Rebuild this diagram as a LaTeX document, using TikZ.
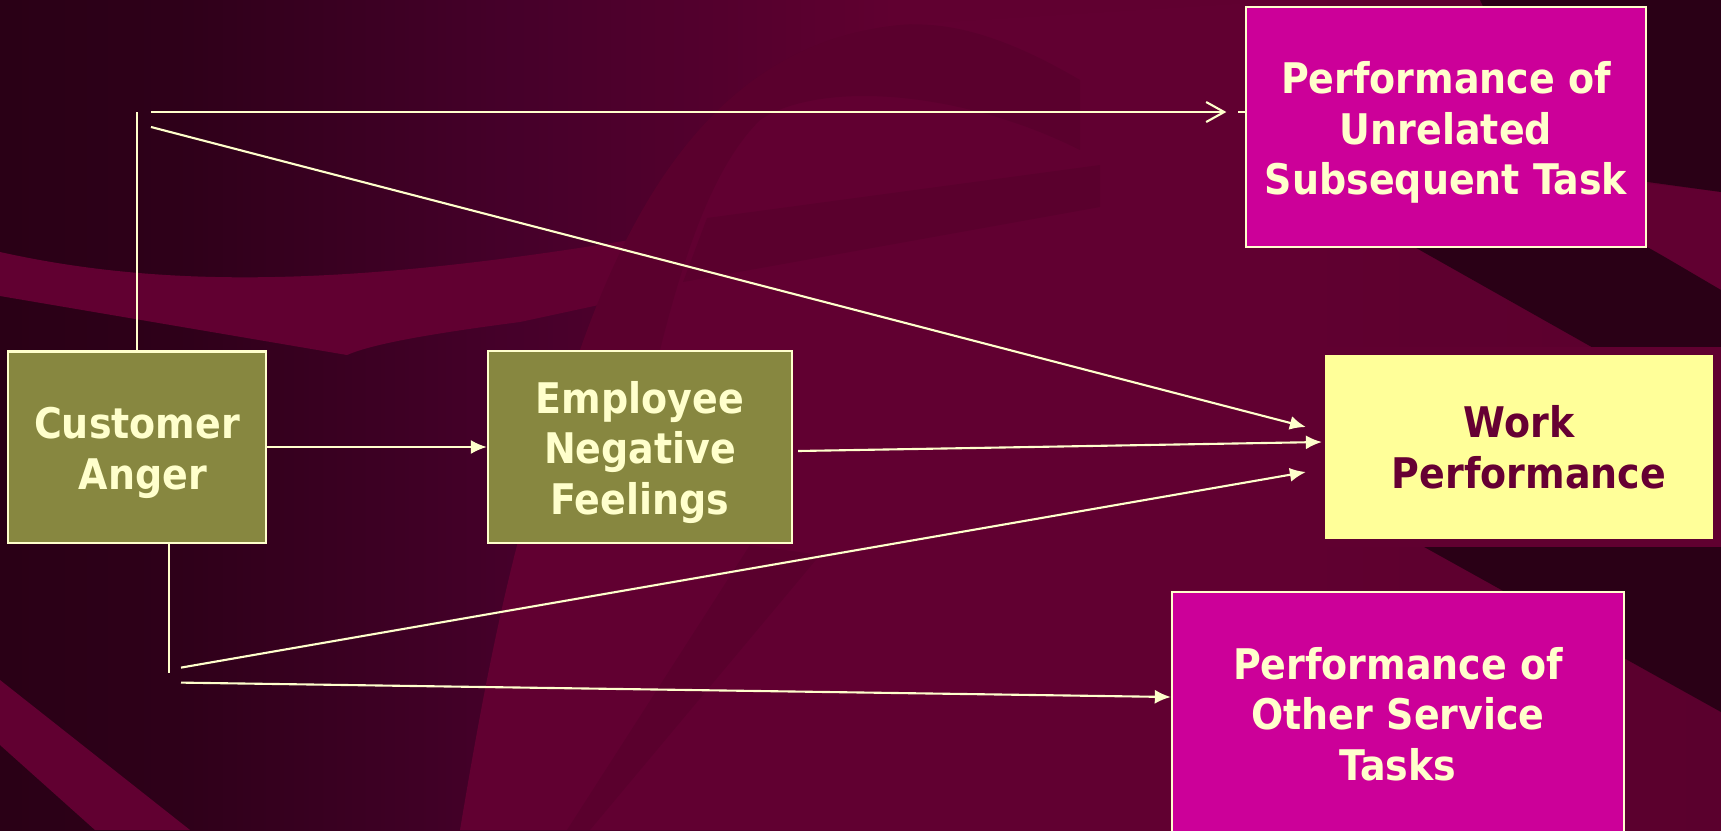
\documentclass[tikz,border=0pt]{standalone}
\usepackage{fontspec}
\setmainfont{DejaVu Sans Condensed}
\usetikzlibrary{arrows.meta, positioning, calc}
\definecolor{slidedark}{HTML}{2A0016}
\definecolor{slidedusk}{HTML}{2E0019}
\definecolor{slideplum}{HTML}{46002A}
\definecolor{slidewine}{HTML}{600030}
\definecolor{slidefade}{HTML}{5A002D}
\definecolor{slideswoosh}{HTML}{610031}
\definecolor{olivebox}{HTML}{878740}
\definecolor{magentabox}{HTML}{CC0099}
\definecolor{outcomebox}{HTML}{FFFF99}
\definecolor{outcomeborder}{HTML}{600030}
\definecolor{outcometext}{HTML}{660033}
\definecolor{paletext}{HTML}{FFFFCC}

\pgfdeclarehorizontalshading{slideback}{100bp}{
  color(0bp)=(slidedark); color(25bp)=(slidedark); color(30bp)=(slidedusk);
  color(40bp)=(slideplum); color(51bp)=(slidewine);
  color(62.5bp)=(slidewine); color(75bp)=(slidefade); color(100bp)=(slidefade)}

% pushes the first line of a box down a little
\newcommand{\padtop}{\rule{0pt}{12.2pt}}

\begin{document}
\begin{tikzpicture}[x=0.01cm, y=-0.01cm,
    factor/.style={draw=paletext, line width=0.6pt, text=paletext,
      font=\fontsize{12}{14.4}\selectfont\bfseries, align=center,
      inner sep=0pt},
    link/.style={draw=paletext, line width=0.6pt},
    swoosh/.style={fill=slideswoosh},
    shadow/.style={fill=slidedark},
    dim/.style={fill=black, opacity=0.07},
    >={Latex[length=0.16cm, width=0.14cm]}
  ]
  \useasboundingbox (0,0) rectangle (1721,830);
  \clip (0,0) rectangle (1721,830);

  % slide background
  \shade[shading=slideback] (0,0) rectangle (1721,830);
  \fill[swoosh] (460,830) .. controls (490,650) and (520,500) .. (580,350)
    .. controls (650,150) and (750,40) .. (900,25) -- (1300,0) -- (1300,830) -- cycle;
  \fill[swoosh] (0,252) .. controls (180,292) and (380,285) .. (700,228)
    .. controls (1000,175) and (1400,150) .. (1721,192)
    -- (1721,290) .. controls (1640,245) and (1560,215) .. (1450,205)
    -- (900,240) -- (520,322) .. controls (420,335) and (370,345) .. (347,355)
    -- (0,296) -- cycle;
  \fill[swoosh] (0,680) -- (190,830) -- (95,830) -- (0,745) -- cycle;
  \fill[dim] (580,350) .. controls (650,150) and (750,40) .. (900,25)
    .. controls (960,20) and (1020,45) .. (1080,80)
    -- (1080,150) .. controls (960,90) and (820,80) .. (760,120)
    .. controls (720,160) and (690,230) .. (660,350) -- cycle;
  \fill[dim] (707,218) -- (1100,165) -- (1100,207) -- (683,282) -- cycle;
  \fill[dim] (750,545) -- (820,555) -- (590,830) -- (567,830) -- cycle;
  \fill[shadow] (1480,0) -- (1721,0) -- (1721,192) -- (1560,170) -- cycle;
  \fill[shadow] (1340,205) -- (1721,420) -- (1721,290)
    .. controls (1680,266) and (1660,254) .. (1647,247) -- (1560,210) -- cycle;
  \fill[shadow] (1417,543) -- (1721,543) -- (1721,712) -- cycle;

  % boxes
  \node[factor, fill=olivebox, minimum width=2.58cm, minimum height=1.91cm]
    (anger) at (137,447) {\padtop Customer\hspace{0.14cm}\\\hspace{0.12cm}Anger};
  \node[factor, fill=olivebox, minimum width=3.04cm, minimum height=1.92cm]
    (feelings) at (640,447) {\padtop Employee\\Negative\\Feelings};
  \node[factor, fill=outcomebox, draw=outcomeborder, line width=0.08cm,
    text=outcometext, minimum width=3.96cm, minimum height=1.91cm]
    (work) at (1519,447) {Work\\\hspace{0.2cm}Performance};
  \node[factor, fill=magentabox, minimum width=3.99cm, minimum height=2.40cm]
    (unrelated) at (1446,127) {\padtop Performance of\\Unrelated\\Subsequent Task};
  \node[factor, fill=magentabox, minimum width=4.52cm, minimum height=2.44cm]
    (other) at (1398,714) {Performance of\\Other Service\\Tasks};

  % forks
  \coordinate (upfork) at (137,112);
  \coordinate (downfork) at ($(anger.south)+(32,129)$);
  \draw[link] (anger.north) -- (upfork);
  \draw[link] (anger.south -| downfork) -- (downfork);

  % paths
  \draw[link, -{Straight Barb[length=0.18cm, width=0.2cm]}]
    ($(upfork)+(14,0)$) -- ($(upfork -| unrelated.west)+(-19,0)$);
  \draw[link] ($(upfork -| unrelated.west)+(-7,0)$) -- (upfork -| unrelated.west);
  \draw[link, ->] ($(upfork)+(14,15)$) -- ($(work.west)+(-11,-20)$);
  \draw[link, ->] (anger.east) -- (feelings.west);
  \draw[link, ->] ($(feelings.east)+(5,4)$) -- ($(work.west)+(5,-5)$);
  \draw[link, ->] ($(downfork)+(12,-5)$) -- ($(work.west)+(-11,25)$);
  \draw[link, ->] ($(downfork)+(12,10)$) -- ($(other.west)+(0,-17)$);
\end{tikzpicture}
\end{document}
